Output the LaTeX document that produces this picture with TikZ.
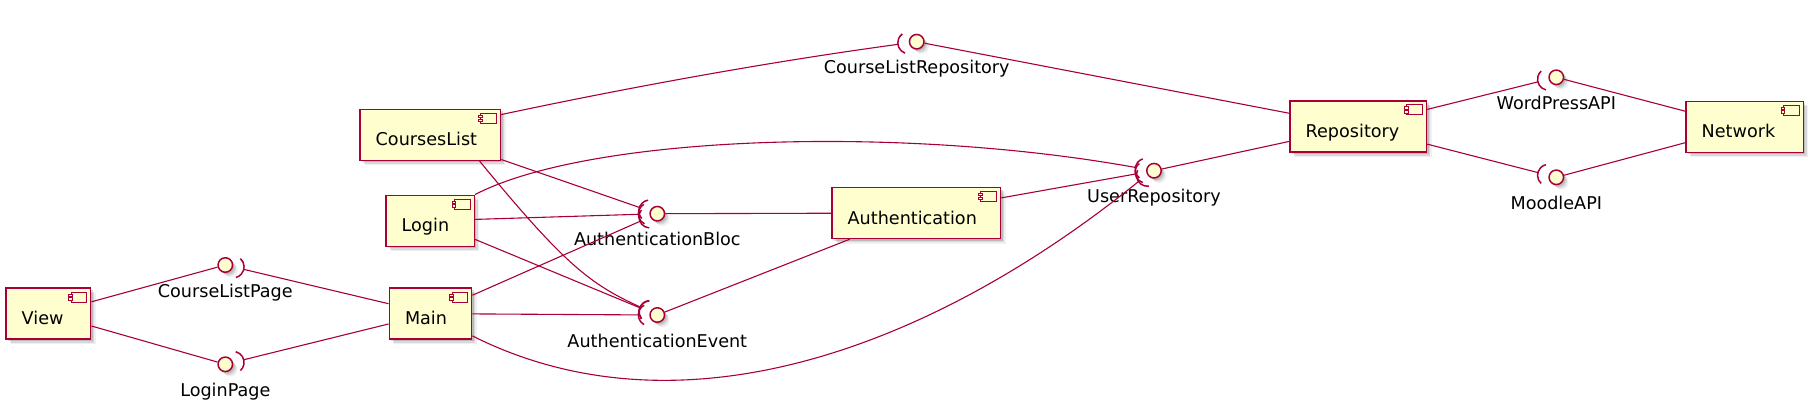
\documentclass[tikz,border=0pt]{standalone}
\usepackage{fontspec}
\setmainfont{DejaVu Sans}
\usetikzlibrary{calc,shadows}
\definecolor{umlred}{HTML}{A80036}
\definecolor{umlfill}{HTML}{FEFECE}
\newcommand\umlfont{\fontsize{17.6}{21}\selectfont}
\tikzset{
  shad/.style={
    drop shadow={shadow xshift=2pt,shadow yshift=-2pt,opacity=0.13,fill=black},
    drop shadow={shadow xshift=3.5pt,shadow yshift=-3.5pt,opacity=0.10,fill=black},
    drop shadow={shadow xshift=5pt,shadow yshift=-5pt,opacity=0.06,fill=black}},
  comp/.style={rectangle, draw=umlred, fill=umlfill, line width=1.5pt, shad,
    inner xsep=15.7pt, inner ysep=0pt, text height=36.5pt, text depth=14.5pt,
    align=left, font=\umlfont},
  ball/.style={circle, draw=umlred, fill=umlfill, line width=1.5pt,
    minimum size=14.5pt, inner sep=0pt, shad},
  conn/.style={draw=umlred, line width=1.1pt},
  sockarc/.style={draw=umlred, line width=1.5pt},
  iconline/.style={draw=umlred, fill=umlfill, line width=1pt},
  lbl/.style={font=\umlfont, anchor=base, inner sep=0pt}
}
% #1 ball, #2 canvas angle towards consumer, #3 name of apex coordinate
\newcommand\socket[3]{%
  \coordinate (#3) at ($(#1.center)+(#2:19pt)$);
  \draw[sockarc] ($(#1.center)+(#2:8pt)+({#2+62}:11pt)$)
    arc[start angle={#2+62}, end angle={#2-62}, radius=11pt];}
\newcommand\cicon[1]{%
  \draw[iconline] ($(#1.north east)+(-20.3,4.7)$) rectangle ($(#1.north east)+(-5,14.7)$);
  \draw[iconline] ($(#1.north east)+(-23,6.6)$) rectangle ($(#1.north east)+(-19.2,9.2)$);
  \draw[iconline] ($(#1.north east)+(-23,10.4)$) rectangle ($(#1.north east)+(-19.2,13)$);}
\begin{document}
\begin{tikzpicture}[x=1pt,y=-1pt]
\useasboundingbox (0,0) rectangle (1813,410);

% components
\node[comp, text width=53.3pt] (view) at (48.35,313.65) {View};
\node[comp, text width=51pt] (main) at (430.5,313.65) {Main};
\node[comp, text width=109.1pt] (courses) at (430.25,134.9) {CoursesList};
\node[comp, text width=56.9pt] (login) at (430.15,220.8) {Login};
\node[comp, text width=137.1pt] (auth) at (916.25,213) {Authentication};
\node[comp, text width=105.1pt] (repo) at (1358.25,126.5) {Repository};
\node[comp, text width=85.9pt] (network) at (1744.65,126.8) {Network};
\foreach \c in {view,main,courses,login,auth,repo,network} {\cicon{\c}}

% interfaces
\node[ball] (clp) at (225.3,265) {};
\node[ball] (lp) at (225.3,364.3) {};
\node[ball] (ab) at (657.3,213.7) {};
\node[ball] (ae) at (657.3,315) {};
\node[ball] (ur) at (1154,170.7) {};
\node[ball] (clr) at (916.7,41.7) {};
\node[ball] (wp) at (1556.3,77.3) {};
\node[ball] (ma) at (1556.3,177.3) {};

\node[lbl] (clpl) at ($(clp)+(0,32)$) {CourseListPage};
\node[lbl] (lpl) at ($(lp)+(0,32)$) {LoginPage};
\node[lbl] (abl) at ($(ab)+(0,32)$) {AuthenticationBloc};
\node[lbl] (ael) at ($(ae)+(0,32)$) {AuthenticationEvent};
\node[lbl] (url) at ($(ur)+(0,32)$) {UserRepository};
\node[lbl] (clrl) at ($(clr)+(0,32)$) {CourseListRepository};
\node[lbl] (wpl) at ($(wp)+(0,32)$) {WordPressAPI};
\node[lbl] (mal) at ($(ma)+(0,32)$) {MoodleAPI};

% sockets
\socket{clp}{-13.3}{clp-main}
\socket{lp}{13.9}{lp-main}
\socket{clr}{188}{clr-courses}
\socket{wp}{194}{wp-repo}
\socket{ma}{165.6}{ma-repo}
\socket{ab}{160.7}{ab-courses}
\socket{ab}{181.8}{ab-login}
\socket{ab}{203.8}{ab-main}
\socket{ae}{155}{ae-courses}
\socket{ae}{157.5}{ae-login}
\socket{ae}{179.7}{ae-main}
\socket{ur}{170}{ur-login}
\socket{ur}{190.1}{ur-auth}
\socket{ur}{215}{ur-main}

% provider connectors
\draw[conn] (view) -- (clp);
\draw[conn] (view) -- (lp);
\draw[conn] (repo) -- (clr);
\draw[conn] (repo) -- (ur);
\draw[conn] (auth) -- (ab);
\draw[conn] (auth) -- (ae);
\draw[conn] (network) -- (wp);
\draw[conn] (network) -- (ma);

% consumer connectors
\draw[conn] (main) -- (clp-main);
\draw[conn] (main) -- (lp-main);
\draw[conn] (repo) -- (wp-repo);
\draw[conn] (repo) -- (ma-repo);
\draw[conn] (courses) -- (ab-courses);
\draw[conn] (login) -- (ab-login);
\draw[conn] (main) -- (ab-main);
\draw[conn] (login) -- (ae-login);
\draw[conn] (main) -- (ae-main);
\draw[conn] (auth) -- (ur-auth);
\draw[conn] (courses.16) .. controls (631,87) and (768,62) .. (clr-courses);
\draw[conn] (login.north east) .. controls (590,135) and (900,125) .. (ur-login);
\draw[conn] (main.-28.6) .. controls (680,440) and (930,350) .. (ur-main);
\draw[conn] (courses.-28) .. controls (565,265) and (590,284) .. (ae-courses);
\end{tikzpicture}
\end{document}
